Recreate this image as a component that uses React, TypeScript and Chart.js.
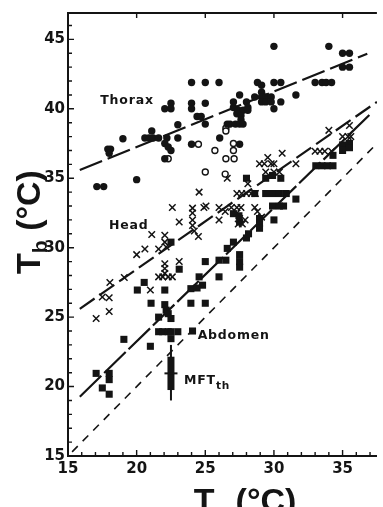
import React, { useEffect, useRef } from 'react';
import { Chart, registerables } from 'chart.js';

Chart.register(...registerables);

// ---- data ----
const xTickValues = [15, 20, 25, 30, 35];
const yTickValues = [15, 20, 25, 30, 35, 40, 45];

const thoraxFilled: [number, number][] = [
  [17.1, 34.4], [17.6, 34.4], [17.9, 37.1], [18.1, 37.1], [18.0, 36.8], [19.0, 37.85],
  [20.0, 34.9], [20.6, 37.9], [20.9, 37.9], [21.2, 37.9], [21.6, 37.9], [21.1, 38.4],
  [22.05, 40.0], [22.5, 40.4], [22.5, 40.0], [22.2, 37.9], [22.05, 37.5], [22.3, 37.25],
  [22.5, 37.0], [22.05, 36.4], [23.0, 38.85], [23.0, 37.9], [24.0, 41.9], [25.0, 41.9],
  [26.0, 41.9], [24.0, 40.4], [24.0, 40.0], [25.0, 40.4], [24.4, 39.45], [24.7, 39.45],
  [25.0, 38.9], [24.0, 37.45], [26.05, 37.9], [26.6, 38.9], [26.8, 38.9], [27.5, 37.45],
  [27.05, 40.5], [27.05, 40.1], [27.5, 41.0], [28.0, 40.5], [28.1, 40.1], [27.4, 39.9],
  [27.75, 39.9], [28.1, 39.9], [27.3, 39.65], [27.6, 39.5], [27.6, 39.2], [27.2, 38.9],
  [27.5, 38.9], [27.75, 38.9], [28.8, 41.9], [29.1, 41.7], [29.1, 41.2], [28.6, 40.85],
  [29.1, 40.85], [29.4, 40.85], [29.8, 40.85], [29.1, 40.5], [29.4, 40.5], [29.8, 40.5],
  [30.0, 41.9], [30.5, 41.9], [30.0, 44.5], [30.0, 40.0], [30.5, 40.5], [31.6, 41.0],
  [33.0, 41.9], [33.5, 41.9], [33.8, 41.9], [34.2, 41.9], [34.0, 44.5], [35.0, 44.0],
  [35.5, 44.0], [35.0, 43.0], [35.5, 43.0],
];

const thoraxOpen: [number, number][] = [
  [22.3, 36.4], [24.5, 37.45], [25.7, 37.0], [26.5, 38.6], [26.5, 38.4], [27.05, 37.5],
  [27.05, 37.0], [26.5, 36.4], [27.1, 36.4], [25.0, 35.45], [26.45, 35.3],
];

const headPoints: [number, number][] = [
  [17.05, 24.9], [18.0, 25.4], [17.5, 26.45], [18.0, 26.4], [18.05, 27.5], [19.1, 27.85],
  [20.0, 29.5], [20.6, 29.9], [21.1, 30.95], [21.6, 29.9], [22.05, 30.9], [22.05, 30.4],
  [22.15, 30.05], [22.05, 28.85], [22.05, 28.5], [22.05, 28.15], [21.6, 27.9], [21.9, 27.9],
  [22.3, 27.9], [22.6, 27.9], [23.1, 29.0], [21.0, 26.95], [22.6, 32.9], [23.1, 31.85],
  [24.07, 32.85], [24.07, 32.5], [24.07, 32.0], [24.07, 31.6], [24.2, 31.2], [24.5, 30.8],
  [24.55, 34.0], [24.9, 32.9], [25.05, 33.0], [26.0, 32.9], [26.0, 32.0], [26.45, 32.6],
  [26.6, 35.0], [26.9, 32.9], [27.3, 32.9], [27.6, 32.9], [27.3, 32.5], [27.5, 32.1],
  [27.4, 31.7], [27.7, 31.7], [27.9, 32.0], [27.3, 33.9], [27.65, 33.9], [28.0, 33.9],
  [28.35, 33.9], [28.65, 33.9], [28.1, 34.6], [28.6, 32.9], [28.8, 32.6], [29.1, 32.2],
  [28.95, 36.05], [29.3, 36.05], [29.55, 36.5], [29.8, 36.05], [30.0, 36.05], [29.4, 35.45],
  [30.0, 35.45], [30.4, 35.45], [30.6, 36.8], [31.6, 36.05], [33.0, 36.95], [33.35, 36.95],
  [33.7, 36.95], [34.2, 36.95], [34.0, 38.45], [35.5, 38.8], [35.0, 38.0], [35.4, 38.0],
  [35.6, 38.0],
];

const abdomenPoints: [number, number][] = [
  [17.05, 20.95], [17.5, 19.9], [18.0, 20.95], [18.0, 20.5], [18.0, 19.45], [19.07, 23.4],
  [21.0, 22.9], [21.6, 23.95], [21.9, 23.95], [22.3, 23.95], [22.5, 23.95], [22.5, 23.45],
  [23.0, 23.95], [24.07, 24.0], [21.6, 25.0], [22.05, 25.9], [22.15, 25.5], [22.3, 25.25],
  [22.5, 24.9], [21.05, 26.0], [23.95, 26.0], [25.0, 26.0], [20.05, 26.95], [20.55, 27.5],
  [22.05, 26.95], [22.5, 30.4], [23.1, 28.45], [23.95, 27.05], [24.4, 27.1], [24.55, 27.9],
  [24.8, 27.3], [25.0, 29.0], [26.0, 27.9], [26.0, 29.1], [26.5, 29.1], [26.6, 29.95],
  [27.05, 30.4], [27.5, 29.5], [27.5, 29.0], [27.5, 28.6], [28.0, 30.7], [28.15, 31.0],
  [28.95, 32.1], [28.95, 31.75], [28.95, 31.4], [30.0, 32.0], [27.05, 32.45], [27.45, 32.3],
  [27.5, 31.85], [28.0, 35.0], [28.6, 33.9], [29.4, 35.0], [29.9, 35.2], [30.5, 35.0],
  [29.4, 33.9], [29.9, 33.9], [30.4, 33.9], [30.9, 33.9], [29.9, 33.0], [30.4, 33.0],
  [30.7, 33.0], [31.6, 33.5], [33.05, 35.9], [33.5, 35.9], [33.9, 35.9], [34.3, 35.9],
  [34.3, 36.65], [35.0, 37.4], [35.0, 37.0], [35.5, 37.5], [35.5, 37.2],
];

const thoraxFit: [number, number][] = [[15.86, 35.6], [36.8, 43.97]];
const headFit: [number, number][] = [[15.86, 25.6], [37.5, 40.5]];
const abdomenFit: [number, number][] = [[15.86, 19.27], [37.1, 39.7]];
const equalityLine: [number, number][] = [[15.3, 15.3], [37.5, 37.5]];

// MFT_th marker (x position, range, spread, mean)
const mftX = [22.5];
const mftRange = [19.0, 23.0];
const mftSpread = [19.75, 22.15];
const mftMean = [20.95];

const seriesNames = ['Thorax', 'Head', 'Abdomen'];
const xTitleParts = ['T', 'a', ' (°C)'];
const yTitleParts = ['T', 'b', ' (°C)'];
const mftLabelParts = ['MFT', 'th'];

const INK = '#141414';
const toPts = (a: [number, number][]) => a.map(([x, y]) => ({ x, y }));

function drawParts(ctx: CanvasRenderingContext2D, parts: string[], cx: number, baseY: number, size: number, subScale: number, subDrop: number, family: string, weight: string, align: 'center' | 'left') {
  const subSize = size * subScale;
  const widths = parts.map((p, i) => {
    ctx.font = `${weight} ${i % 2 === 1 ? subSize : size}px ${family}`;
    return ctx.measureText(p).width;
  });
  const total = widths.reduce((s, w) => s + w, 0);
  let x = align === 'center' ? cx - total / 2 : cx;
  ctx.textAlign = 'left';
  ctx.textBaseline = 'alphabetic';
  parts.forEach((p, i) => {
    const sub = i % 2 === 1;
    ctx.font = `${weight} ${sub ? subSize : size}px ${family}`;
    ctx.fillText(p, x, baseY + (sub ? subDrop : 0));
    x += widths[i];
  });
}

const decorPlugin = {
  id: 'decor',
  afterDatasetsDraw(chart: any) {
    const { ctx, scales } = chart;
    const xs = scales.x, ys = scales.y;
    ctx.save();
    ctx.strokeStyle = INK;
    ctx.fillStyle = INK;
    // MFT marker
    const px = xs.getPixelForValue(mftX[0]);
    ctx.lineWidth = 2;
    ctx.beginPath();
    ctx.moveTo(px, ys.getPixelForValue(mftRange[0]));
    ctx.lineTo(px, ys.getPixelForValue(mftRange[1]));
    ctx.stroke();
    const top = ys.getPixelForValue(mftSpread[1]);
    const bot = ys.getPixelForValue(mftSpread[0]);
    ctx.fillRect(px - 3.5, top, 7, bot - top);
    const my = ys.getPixelForValue(mftMean[0]);
    ctx.beginPath();
    ctx.moveTo(px - 6.5, my);
    ctx.lineTo(px + 6.5, my);
    ctx.stroke();
    ctx.restore();
  },
  afterDraw(chart: any) {
    const { ctx, chartArea: a, scales } = chart;
    const xs = scales.x, ys = scales.y;
    ctx.save();
    ctx.strokeStyle = INK;
    ctx.fillStyle = INK;
    // top frame line
    ctx.lineWidth = 2;
    ctx.beginPath();
    ctx.moveTo(a.left - 1, a.top);
    ctx.lineTo(a.right, a.top);
    ctx.stroke();
    // inward ticks
    ctx.lineWidth = 1.4;
    ctx.beginPath();
    for (let v = 16; v <= 37; v++) {
      const p = xs.getPixelForValue(v);
      const len = v % 5 === 0 ? 6 : 4;
      ctx.moveTo(p, a.bottom);
      ctx.lineTo(p, a.bottom - len);
    }
    xTickValues.forEach((v) => {
      if (v === 15) return;
      const p = xs.getPixelForValue(v);
      ctx.moveTo(p, a.top);
      ctx.lineTo(p, a.top + 5);
    });
    for (let v = 16; v <= 46; v++) {
      const p = ys.getPixelForValue(v);
      const len = v % 5 === 0 ? 6 : 4;
      ctx.moveTo(a.left, p);
      ctx.lineTo(a.left + len, p);
    }
    ctx.stroke();

    // series labels
    ctx.font = 'bold 12.5px "DejaVu Sans"';
    (ctx as any).letterSpacing = '0.8px';
    ctx.textAlign = 'center';
    ctx.textBaseline = 'middle';
    ctx.fillText(seriesNames[0], xs.getPixelForValue(19.3), ys.getPixelForValue(40.6));
    ctx.fillText(seriesNames[1], xs.getPixelForValue(19.43), ys.getPixelForValue(31.55));
    ctx.fillText(seriesNames[2], xs.getPixelForValue(27.07), ys.getPixelForValue(23.63));
    drawParts(ctx, mftLabelParts, xs.getPixelForValue(23.45), ys.getPixelForValue(20.15), 12.5, 0.85, 5, '"DejaVu Sans"', 'bold', 'left');
    (ctx as any).letterSpacing = '0px';

    // axis titles
    drawParts(ctx, xTitleParts, 245, 512, 34, 0.62, 7, '"Liberation Sans"', 'bold', 'center');
    ctx.save();
    ctx.translate(40, 222);
    ctx.rotate(-Math.PI / 2);
    drawParts(ctx, yTitleParts, 0, 0, 34, 0.62, 7, '"Liberation Sans"', 'bold', 'center');
    ctx.restore();
    ctx.restore();
  },
};

export default function App() {
  const canvasRef = useRef<HTMLCanvasElement | null>(null);

  useEffect(() => {
    const canvas = canvasRef.current;
    if (!canvas) return;
    const tickFont = { family: '"DejaVu Sans"', size: 15, weight: 'bold' as const };
    const chart = new Chart(canvas, {
      type: 'scatter',
      data: {
        datasets: [
          {
            label: 'Thorax',
            data: toPts(thoraxFilled),
            pointStyle: 'circle',
            pointRadius: 3.7,
            backgroundColor: INK,
            borderColor: INK,
            borderWidth: 0,
          },
          {
            label: 'Thorax (open)',
            data: toPts(thoraxOpen),
            pointStyle: 'circle',
            pointRadius: 3,
            backgroundColor: '#ffffff',
            borderColor: INK,
            borderWidth: 1.4,
          },
          {
            label: 'Head',
            data: toPts(headPoints),
            pointStyle: 'crossRot',
            pointRadius: 4.6,
            borderColor: INK,
            borderWidth: 1.5,
          },
          {
            label: 'Abdomen',
            data: toPts(abdomenPoints),
            pointStyle: 'rect',
            pointRadius: 5,
            backgroundColor: INK,
            borderColor: INK,
            borderWidth: 0,
          },
          {
            label: 'Thorax fit',
            data: toPts(thoraxFit),
            showLine: true,
            pointRadius: 0,
            borderColor: INK,
            borderWidth: 2.2,
            borderDash: [24, 6],
          },
          {
            label: 'Head fit',
            data: toPts(headFit),
            showLine: true,
            pointRadius: 0,
            borderColor: INK,
            borderWidth: 2.2,
            borderDash: [18, 6],
          },
          {
            label: 'Abdomen fit',
            data: toPts(abdomenFit),
            showLine: true,
            pointRadius: 0,
            borderColor: INK,
            borderWidth: 2.2,
            borderDash: [30, 4],
          },
          {
            label: 'Ta = Tb',
            data: toPts(equalityLine),
            showLine: true,
            pointRadius: 0,
            borderColor: INK,
            borderWidth: 1.6,
            borderDash: [8, 7],
          },
        ],
      },
      options: {
        responsive: false,
        animation: false,
        devicePixelRatio: 1,
        layout: { padding: { top: 13, right: 0, left: 0, bottom: 0 } },
        plugins: { legend: { display: false }, tooltip: { enabled: false } },
        scales: {
          x: {
            type: 'linear',
            min: 15,
            max: 37.5,
            grid: { display: false, drawTicks: false },
            border: { display: true, color: INK, width: 2 },
            ticks: {
              stepSize: 5,
              includeBounds: false,
              autoSkip: false,
              maxRotation: 0,
              padding: 4,
              color: INK,
              font: tickFont,
            },
            afterFit: (s: any) => { s.height = 51; },
          },
          y: {
            type: 'linear',
            min: 15,
            max: 46.9,
            grid: { display: false, drawTicks: false },
            border: { display: true, color: INK, width: 2 },
            ticks: {
              stepSize: 5,
              includeBounds: false,
              autoSkip: false,
              padding: 3,
              color: INK,
              font: tickFont,
              callback: (v: any) => (yTickValues.includes(Number(v)) ? String(v) : ''),
            },
            afterFit: (s: any) => { s.width = 68; },
          },
        },
      },
      plugins: [decorPlugin],
    });
    return () => chart.destroy();
  }, []);

  return (
    <div style={{ position: 'absolute', left: 0, top: 0, width: 383, height: 507, background: '#fff' }}>
      <canvas ref={canvasRef} width={383} height={507} style={{ display: 'block' }} />
    </div>
  );
}
